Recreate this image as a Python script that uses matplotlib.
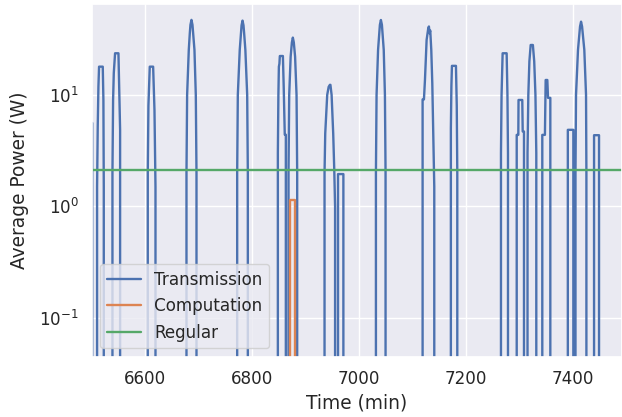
import numpy as np
import matplotlib
matplotlib.use('Agg')
import matplotlib.pyplot as plt
import seaborn as sns

sns.set_theme(style='darkgrid', font_scale=1.1, rc={'lines.linewidth': 1.7})

# Transmission power (W), time (min), 0 = off
trans_t = [6498, 6501.8, 6501.8,
           6510.9, 6510.9, 6512.1, 6513.4, 6514.6, 6521.5, 6522.7, 6523.4, 6523.4,
           6539.6, 6539.6, 6540.8, 6542.1, 6543.3, 6544.5, 6550.8, 6552.7, 6553.9, 6553.9,
           6605.6, 6605.6, 6606.8, 6609.3, 6615.6, 6618.1, 6620.0, 6620.0,
           6677.9, 6677.9, 6679.1, 6682.2, 6684.1, 6685.3, 6687.2, 6689.1, 6690.3, 6692.8, 6695.3, 6696.6, 6696.6,
           6772.6, 6772.6, 6773.8, 6777.4, 6779.6, 6780.8, 6782.6, 6784.4, 6785.6, 6787.9, 6791.3, 6792.5, 6792.5,
           6848.6, 6848.6, 6849.6, 6850.5, 6851.5, 6852.3, 6858.0, 6859.5, 6861.5, 6863.5, 6863.5,
           6868.5, 6868.5, 6869.8, 6872.5, 6874.8, 6876.6, 6878.4, 6880.8, 6883.5, 6884.7, 6884.7,
           6935.8, 6935.8, 6937.1, 6940.8, 6943.5, 6945.8, 6946.8, 6949.0, 6952.0, 6954.0, 6955.5, 6955.5,
           6961.0, 6961.0, 6971.0, 6971.0,
           7031.8, 7031.8, 7033.0, 7035.8, 7038.0, 7039.2, 7041.1, 7043.0, 7044.2, 7046.4, 7048.6, 7049.8, 7049.8,
           7119.0, 7119.0, 7121.5, 7123.4, 7126.5, 7129.6, 7130.8, 7132.0, 7133.3, 7135.2, 7137.1, 7138.9, 7140.8, 7140.8,
           7171.8, 7171.8, 7172.8, 7173.8, 7181.3, 7182.8, 7183.8, 7183.8,
           7265.4, 7265.4, 7266.5, 7268.5, 7276.0, 7277.5, 7278.5, 7278.5,
           7294.8, 7294.8, 7297.8, 7298.2, 7305.2, 7306.0, 7308.4, 7308.4,
           7315.0, 7315.0, 7316.5, 7318.5, 7320.9, 7325.0, 7327.5, 7329.8, 7331.4, 7331.4,
           7342.6, 7342.6, 7345.8, 7347.5, 7348.9, 7352.0, 7353.3, 7357.6, 7357.6,
           7390.3, 7390.3, 7400.6, 7400.6,
           7404.6, 7404.6, 7405.6, 7409.3, 7411.9, 7413.1, 7415.0, 7416.9, 7418.1, 7421.1, 7424.3, 7425.0, 7425.0,
           7439.3, 7439.3, 7448.6, 7448.6, 7495]
trans_p = [5.6, 5.6, 0,
           0, 1.5, 5.2, 11.9, 17.9, 17.9, 9.0, 1.5, 0,
           0, 2.0, 9.0, 15.7, 19.2, 23.6, 23.6, 9.0, 4.86, 0,
           0, 2.0, 8.0, 17.9, 17.9, 7.3, 1.5, 0,
           0, 2.0, 10, 25.3, 35.7, 42.4, 47, 42.4, 35.7, 25.3, 10, 2.0, 0,
           0, 2.0, 10, 25.3, 35.7, 42, 46.3, 42, 35.7, 25.3, 10, 2.0, 0,
           0, 3.0, 10, 17.9, 19.0, 22.3, 22.3, 12, 4.4, 4.4, 0,
           0, 2.0, 10, 22, 29.5, 32.6, 29.5, 22, 10, 2.0, 0,
           0, 2.0, 4.5, 10, 11.8, 12.3, 12.3, 10, 4.5, 2.1, 1.0, 0,
           0, 1.95, 1.95, 0,
           0, 2.0, 10, 25.3, 35.7, 42.4, 46.9, 42.4, 35.7, 25.3, 10, 2.0, 0,
           0, 9.1, 9.1, 13.6, 31.1, 39.6, 41, 35.7, 37.7, 25.3, 12.7, 4.5, 1.5, 0,
           0, 5.0, 12, 18.2, 18.2, 8.0, 2.0, 0,
           0, 3.0, 10, 23.6, 23.6, 10, 3.0, 0,
           0, 4.38, 4.38, 9.0, 9.0, 4.7, 4.7, 0,
           0, 3.0, 10, 20, 28, 28, 20, 10, 3.0, 0,
           0, 4.38, 4.38, 4.38, 13.6, 13.6, 9.4, 9.4, 0,
           0, 4.86, 4.86, 0,
           0, 2.0, 10, 25.3, 35.7, 41, 45.3, 41, 35.7, 25.3, 10, 2.0, 0,
           0, 4.35, 4.35, 0, 0]

# Computation power
comp_t = [6495, 6871.6, 6871.6, 6881.0, 6881.0, 7495]
comp_p = [0, 0, 1.15, 1.15, 0, 0]

# Regular power (constant)
reg_t = [6495, 7495]
reg_p = [2.12, 2.12]

fig = plt.figure(figsize=(6.22, 4.17), dpi=100)
ax = fig.add_axes([0.148, 0.1446, 0.852, 0.8454])

ax.plot(trans_t, trans_p, label='Transmission')
ax.plot(comp_t, comp_p, label='Computation')
ax.plot(reg_t, reg_p, label='Regular')

ax.set_yscale('log', nonpositive='clip')
ax.set_xlim(6501.5, 7491.5)
ax.set_ylim(0.045, 65)
ax.set_xticks([6600, 6800, 7000, 7200, 7400])
ax.tick_params(labelsize=12.1)
ax.set_xlabel('Time (min)', fontsize=13.4)
ax.set_ylabel('Average Power (W)', fontsize=13.4, labelpad=7)
ax.legend(loc='lower left', fontsize=12.1)

fig.savefig('out.png', dpi=100)
